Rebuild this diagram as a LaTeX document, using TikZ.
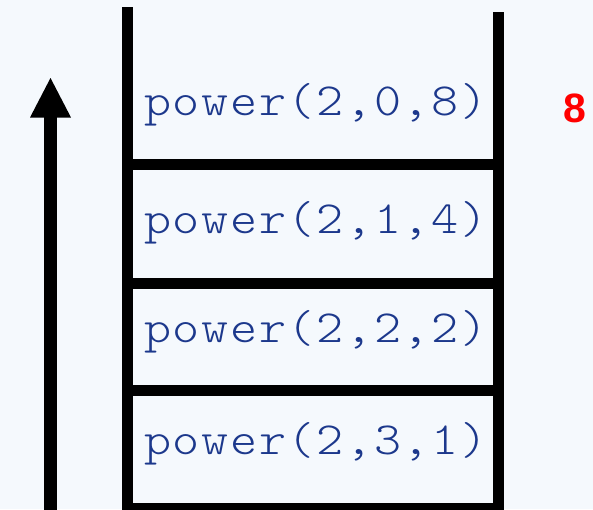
\documentclass[tikz,border=0pt]{standalone}
\usepackage{fontspec}
\newfontfamily\codefont[FakeStretch=1.12]{lmmonolt10-regular.otf}
\newfontfamily\numfont{Liberation Sans}
\definecolor{bg}{RGB}{245,249,253}
\definecolor{codeblue}{RGB}{28,56,140}
% fixed-pitch cells for the call text
\newcommand\cellwd{28.75pt}
\def\spreadchars#1{\ifx#1\relax\else\makebox[\cellwd]{#1}\expandafter\spreadchars\fi}
\newcommand\calltext[1]{\spreadchars#1\relax}
\tikzset{
  wall/.style={line width=11pt, draw=black},
  frame/.style={font=\codefont\fontsize{46}{46}\selectfont, text=codeblue,
                inner sep=0pt, anchor=base west},
  result/.style={font=\numfont\bfseries\fontsize{41}{41}\selectfont, text=red,
                 inner sep=0pt, anchor=base},
}
\begin{document}
\begin{tikzpicture}[x=1pt,y=-1pt]
\fill[bg] (0,0) rectangle (593,509);
\useasboundingbox (0,0) rectangle (593,509);
\clip (0,0) rectangle (593,509);
% stack walls
\draw[wall] (127.5,7) -- (127.5,515);
\draw[wall] (498.5,12) -- (498.5,515);
% frame separators
\foreach \y in {164.5,283,390,508}
  \draw[wall] (127.5,\y) -- (498.5,\y);
% growth arrow
\fill[black] (44,515) rectangle (57,116);
\fill[black] (50.5,78) -- (71,117.5) -- (30,117.5) -- cycle;
% frames
\node[frame] (f0) at (143,115) {\calltext{power(2,0,8)}};
\node[frame] (f1) at (143,233) {\calltext{power(2,1,4)}};
\node[frame] (f2) at (143,342) {\calltext{power(2,2,2)}};
\node[frame] (f3) at (143,454) {\calltext{power(2,3,1)}};
% returned value
\node[result] (r0) at (574.5,122) {8};
\end{tikzpicture}
\end{document}
